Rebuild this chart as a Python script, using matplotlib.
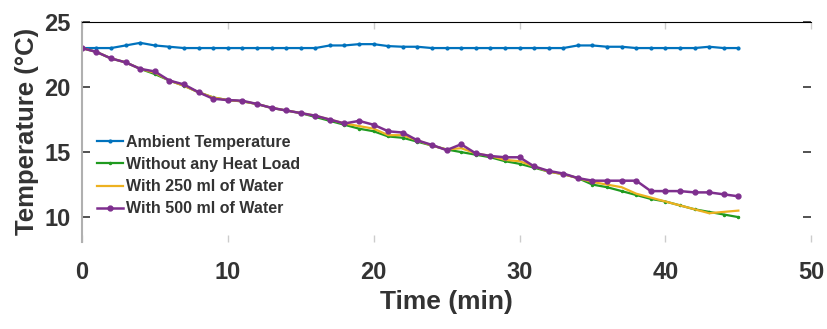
import numpy as np
import matplotlib
matplotlib.use("Agg")
import matplotlib.pyplot as plt

# time axis, one reading per minute
time_min = list(range(0, 46))

ambient = [23.0, 23.0, 23.0, 23.2, 23.4, 23.2, 23.1, 23.0, 23.0, 23.0,
           23.0, 23.0, 23.0, 23.0, 23.0, 23.0, 23.0, 23.2, 23.2, 23.3,
           23.3, 23.15, 23.1, 23.1, 23.0, 23.0, 23.0, 23.0, 23.0, 23.0,
           23.0, 23.0, 23.0, 23.0, 23.2, 23.2, 23.1, 23.1, 23.0, 23.0,
           23.0, 23.0, 23.0, 23.1, 23.0, 23.0]

no_load = [23.0, 22.7, 22.2, 21.9, 21.4, 21.0, 20.5, 20.1, 19.6, 19.2,
           19.0, 18.9, 18.7, 18.4, 18.2, 18.0, 17.7, 17.4, 17.1, 16.8,
           16.6, 16.2, 16.1, 15.8, 15.5, 15.2, 15.0, 14.8, 14.6, 14.3,
           14.1, 13.8, 13.5, 13.3, 13.0, 12.5, 12.3, 12.0, 11.7, 11.4,
           11.2, 10.9, 10.6, 10.4, 10.2, 10.0]

water_250 = [23.0, 22.7, 22.2, 21.9, 21.4, 21.1, 20.5, 20.1, 19.6, 19.2,
             19.0, 18.9, 18.7, 18.4, 18.2, 18.0, 17.8, 17.5, 17.2, 17.0,
             16.8, 16.3, 16.3, 15.9, 15.5, 15.2, 15.3, 14.9, 14.7, 14.4,
             14.3, 13.9, 13.5, 13.3, 13.0, 12.7, 12.5, 12.3, 11.8, 11.5,
             11.2, 10.9, 10.6, 10.3, 10.4, 10.5]

water_500 = [23.0, 22.7, 22.2, 21.9, 21.4, 21.2, 20.5, 20.2, 19.6, 19.1,
             19.0, 18.95, 18.7, 18.4, 18.2, 18.0, 17.8, 17.5, 17.2, 17.4,
             17.1, 16.6, 16.5, 15.9, 15.55, 15.15, 15.6, 14.9, 14.7, 14.6,
             14.6, 13.9, 13.55, 13.35, 13.0, 12.8, 12.8, 12.8, 12.8, 12.0,
             12.0, 12.0, 11.9, 11.9, 11.75, 11.6]

labels = ["Ambient Temperature", "Without any Heat Load",
          "With 250 ml of Water", "With 500 ml of Water"]

plt.rcParams['font.family'] = ['Liberation Sans', 'DejaVu Sans']

fig = plt.figure(figsize=(8.27, 3.29), dpi=100)
ax = fig.add_axes([0.099, 0.265, 0.882, 0.668])

ax.plot(time_min, ambient, color='#0072bd', lw=1.6, marker='.', ms=4, label=labels[0])
ax.plot(time_min, no_load, color='#1f9a1f', lw=1.6, marker='.', ms=3, label=labels[1])
ax.plot(time_min, water_250, color='#edb120', lw=1.6, label=labels[2])
ax.plot(time_min, water_500, color='#7e2f8e', lw=1.8, marker='o', ms=3.5, label=labels[3])

ax.set_xlim(0, 50)
ax.set_ylim(8.1, 25)
ax.set_xticks([0, 10, 20, 30, 40, 50])
ax.set_yticks([10, 15, 20, 25])

ax.spines['top'].set_color('black')
ax.spines['left'].set_color('#b0b0b0')
ax.spines['left'].set_linewidth(1.5)
ax.spines['right'].set_visible(False)
ax.spines['bottom'].set_visible(False)

ax.tick_params(axis='y', direction='in', length=6, width=1.2, color='#333333',
               right=True, labelsize=17, pad=8)
ax.tick_params(axis='x', direction='in', length=5, width=1, color='#cccccc',
               top=True, labelsize=17, pad=14)
for t in ax.get_yticklabels():
    t.set_fontweight('bold')
    t.set_color('#333333')
for t in ax.get_xticklabels():
    t.set_fontweight('bold')
    t.set_color('#333333')

ax.set_xlabel('Time (min)', fontsize=19, fontweight='bold', color='#333333',
              labelpad=4)
ax.set_ylabel('Temperature (°C)', fontsize=18.5, fontweight='bold', color='#333333',
              labelpad=4)

leg = ax.legend(loc='lower left', bbox_to_anchor=(0.006, 0.065), frameon=False,
                prop={'weight': 'bold', 'size': 11.5}, handlelength=1.6,
                handletextpad=0.2, labelspacing=0.45, borderaxespad=0.3)
for t in leg.get_texts():
    t.set_color('#333333')

fig.savefig('out.png', dpi=100)
